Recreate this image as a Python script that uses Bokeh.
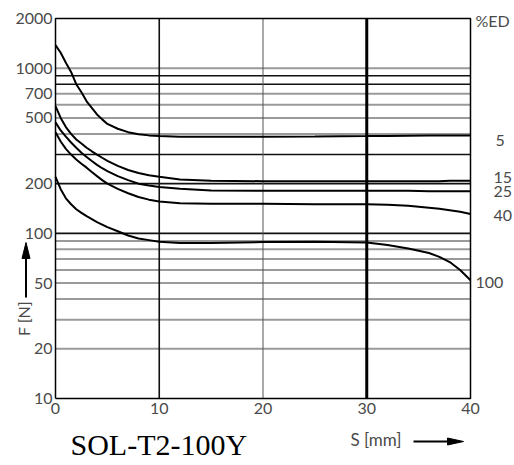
from bokeh.plotting import figure
from bokeh.models import Range1d
from bokeh.core.properties import value
from bokeh.embed import file_html
from bokeh.resources import INLINE
import math

# ---- data ----
s_mm = [0, 0.5, 1, 1.5, 2, 2.5, 3, 3.5, 4, 4.5, 5, 6, 7, 8, 9, 10, 12, 15, 20, 25, 30, 32, 34, 36, 37, 38, 39, 40]
f_ed5 = [1380, 1240, 1080, 950, 800, 715, 630, 575, 525, 490, 460, 430, 410, 398, 392, 388, 385, 385, 385, 386, 388, 389, 390, 391, 391, 392, 392, 392]
f_ed15 = [590, 500, 440, 400, 370, 350, 330, 314, 300, 287, 275, 256, 242, 232, 225, 220, 212, 208, 207, 207, 207, 207, 207, 207, 207, 208, 208, 208]
f_ed25 = [470, 420, 385, 355, 330, 308, 290, 274, 260, 248, 238, 222, 210, 200, 195, 191, 186, 182, 181, 181, 181, 181, 181, 180, 180, 180, 180, 180]
f_ed40 = [410, 360, 325, 300, 280, 264, 250, 235, 222, 210, 200, 186, 175, 166, 160, 156, 152, 151, 151, 150, 150, 149, 147, 143, 141, 138, 135, 131]
f_ed100 = [220, 185, 163, 150, 140, 133, 127, 122, 117, 113, 109, 103, 97, 93, 91, 89, 87.5, 87.5, 88.5, 89, 88, 85, 81, 76, 72, 67, 60, 52]

series_labels = ["5", "15", "25", "40", "100"]
grid_dark = [100, 200, 300, 800, 900]
grid_gray = [20, 30, 40, 50, 60, 70, 80, 90, 400, 500, 600, 700, 1000]
x_ticks = [0, 10, 20, 30, 40]
y_ticks = [10, 20, 50, 100, 200, 500, 700, 1000, 2000]
X0, X1 = 0, 40
Y0, Y1 = 10, 2000

# ---- layout (pixels) ----
W, H = 514, 465
L, R, T, B = 55, 44, 18, 67
fw, fh = W - L - R, H - T - B
ppx = fw / (X1 - X0)
ppd = fh / (math.log10(Y1) - math.log10(Y0))

def fx(px):
    return X0 + (px - L) / ppx

def fy(py):
    return 10 ** (math.log10(Y0) + (T + fh - py) / ppd)

TXT = "#4a4a4a"
FONT = value("Lato")

p = figure(width=W, height=H, output_backend="svg", toolbar_location=None,
           x_range=Range1d(fx(0), fx(W)), y_range=Range1d(fy(H), fy(0)), y_axis_type="log",
           x_axis_location=None, y_axis_location=None, min_border=0)
p.grid.visible = False
p.outline_line_color = None
p.background_fill_color = "white"
p.border_fill_color = "white"

# horizontal gridlines
p.segment(x0=[X0] * len(grid_gray), x1=[X1] * len(grid_gray), y0=grid_gray, y1=grid_gray,
          line_color="#9a9a9a", line_width=2)
p.segment(x0=[X0] * len(grid_dark), x1=[X1] * len(grid_dark), y0=grid_dark, y1=grid_dark,
          line_color="#111111", line_width=1.6)
# vertical lines
p.segment(x0=[10], x1=[10], y0=[Y0], y1=[Y1], line_color="#111111", line_width=1.6)
p.segment(x0=[20], x1=[20], y0=[Y0], y1=[Y1], line_color="#555555", line_width=1)
p.segment(x0=[30], x1=[30], y0=[Y0], y1=[Y1], line_color="black", line_width=3)

# frame
p.line([X0, X1, X1, X0, X0], [Y0, Y0, Y1, Y1, Y0], line_color="black", line_width=1.5)

# curves
for ys in (f_ed5, f_ed15, f_ed25, f_ed40, f_ed100):
    p.line(s_mm, ys, line_color="black", line_width=2)

# tick labels
p.text(x=x_ticks, y=[fy(T + fh + 9.5)] * len(x_ticks), text=[str(t) for t in x_ticks],
       text_font=FONT, text_font_size="16px", text_color=TXT, text_align="center", text_baseline="middle")
p.text(x=[fx(L - 3)] * len(y_ticks), y=y_ticks, text=[str(t) for t in y_ticks],
       text_font=FONT, text_font_size="16px", text_color=TXT, text_align="right", text_baseline="middle")

def lab(text, px, py, size="16px", align="left", baseline="middle", font=FONT, angle=0, color=TXT):
    p.text(x=[fx(px)], y=[fy(py)], text=[text], text_font=font, text_font_size=size,
           text_color=color, text_align=align, text_baseline=baseline, angle=angle)

lab("%ED", 475, 19.5, size="16px")
lab(series_labels[0], 495, 140)
lab(series_labels[1], 493, 176.5)
lab(series_labels[2], 493, 190.5)
lab(series_labels[3], 493, 215)
lab(series_labels[4], 475, 282)
lab("F [N]", 23, 318, size="16px", align="center", angle=math.pi / 2)
lab("S [mm]", 350, 439, size="17px")
lab("SOL-T2-100Y", 70, 444, size="30px", font=value("Liberation Serif"), color="black")

# arrows
p.segment(x0=[fx(25.5)], x1=[fx(25.5)], y0=[fy(297)], y1=[fy(253)], line_color="black", line_width=2)
p.patch([fx(21.5), fx(25.5), fx(29.5)], [fy(258), fy(242), fy(258)], fill_color="black", line_color="black")
p.segment(x0=[fx(413)], x1=[fx(453)], y0=[fy(441)], y1=[fy(441)], line_color="black", line_width=2)
p.patch([fx(447), fx(463), fx(447)], [fy(437.5), fy(441), fy(444.5)], fill_color="black", line_color="black")

open("out.html", "w").write(file_html(p, INLINE))
